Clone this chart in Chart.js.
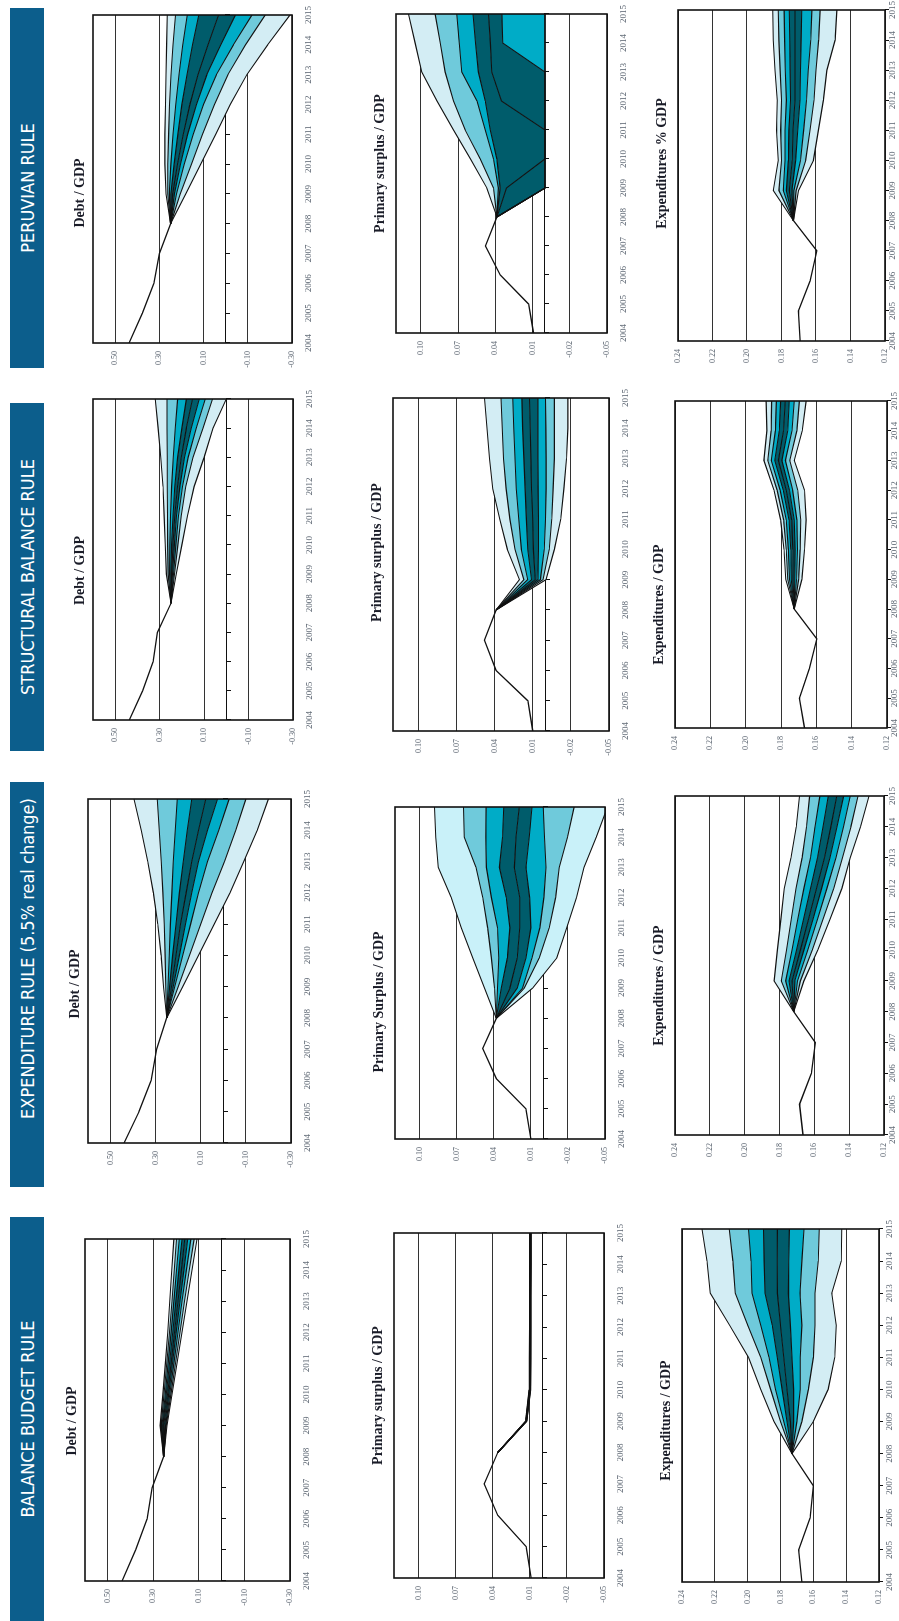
<!DOCTYPE html>
<html>
<head>
<meta charset="utf-8">
<script src="https://cdn.jsdelivr.net/npm/chart.js@4.4.1/dist/chart.umd.min.js"></script>
<style>
html, body { margin: 0; padding: 0; background: #fff; overflow: hidden; }
/* the page is laid out in landscape and turned a quarter turn */
#page { position: absolute; left: 0; top: 0; width: 1621px; height: 899px; background: #fff;
        transform-origin: 0 0; transform: translate(0, 1621px) rotate(-90deg); }
.rule { position: absolute; top: 10px; height: 34px; line-height: 35px; background: #0c5e8c; color: #fff;
        font-family: "Liberation Sans Narrow", "Arial Narrow", "DejaVu Sans Condensed", sans-serif;
        font-size: 18px; text-align: center; white-space: nowrap; box-sizing: border-box; }
canvas { position: absolute; }
</style>
</head>
<body>
<div id="page"></div>
<script>
var years = [2004, 2005, 2006, 2007, 2008, 2009, 2010, 2011, 2012, 2013, 2014, 2015];
var histYears = [2004, 2005, 2006, 2007, 2008];
var fanYears = [2008, 2009, 2010, 2011, 2012, 2013, 2014, 2015];

var debtTicks = [0.50, 0.30, 0.10, -0.10, -0.30];
var surplusTicks = [0.10, 0.07, 0.04, 0.01, -0.02, -0.05];
var spendTicks = [0.24, 0.22, 0.20, 0.18, 0.16, 0.14, 0.12];

var ruleNames = ["BALANCE BUDGET RULE", "EXPENDITURE RULE (5.5% real change)", "STRUCTURAL BALANCE RULE", "PERUVIAN RULE"];

// observed values 2004-2008
var bbDebtHist = [0.437, 0.378, 0.327, 0.305, 0.255];
var exDebtHist = [0.440, 0.374, 0.320, 0.296, 0.251];
var sbDebtHist = [0.437, 0.377, 0.329, 0.310, 0.249];
var peDebtHist = [0.437, 0.377, 0.325, 0.300, 0.249];

var bbSurpHist = [0.009, 0.013, 0.036, 0.047, 0.036];
var exSurpHist = [0.010, 0.014, 0.038, 0.049, 0.038];
var sbSurpHist = [0.010, 0.0139, 0.0388, 0.048, 0.0388];
var peSurpHist = [0.0092, 0.0132, 0.036, 0.048, 0.0387];

var bbSpendHist = [0.167, 0.169, 0.162, 0.160, 0.173];
var exSpendHist = [0.1665, 0.1685, 0.1617, 0.1594, 0.1718];
var sbSpendHist = [0.1667, 0.1696, 0.1639, 0.1597, 0.1725];
var peSpendHist = [0.1692, 0.1702, 0.1634, 0.1595, 0.1731];

// fan percentiles 2008-2015, lowest line first
var bbDebtFan = [
  [0.255, 0.240, 0.218, 0.196, 0.174, 0.152, 0.130, 0.108],
  [0.255, 0.243, 0.223, 0.203, 0.183, 0.163, 0.142, 0.121],
  [0.255, 0.246, 0.228, 0.210, 0.192, 0.174, 0.155, 0.135],
  [0.255, 0.250, 0.233, 0.216, 0.200, 0.183, 0.166, 0.149],
  [0.255, 0.254, 0.238, 0.222, 0.207, 0.192, 0.177, 0.162],
  [0.255, 0.258, 0.243, 0.229, 0.215, 0.201, 0.188, 0.174],
  [0.255, 0.262, 0.248, 0.235, 0.222, 0.210, 0.198, 0.186],
  [0.255, 0.266, 0.253, 0.241, 0.229, 0.218, 0.208, 0.198],
  [0.255, 0.270, 0.258, 0.247, 0.237, 0.228, 0.219, 0.210]
];
var exDebtFan = [
  [0.251, 0.180, 0.110, 0.040, -0.030, -0.090, -0.150, -0.200],
  [0.251, 0.200, 0.150, 0.100, 0.050, -0.005, -0.055, -0.100],
  [0.251, 0.215, 0.180, 0.145, 0.110, 0.070, 0.020, -0.026],
  [0.251, 0.222, 0.195, 0.168, 0.140, 0.110, 0.070, 0.026],
  [0.251, 0.230, 0.210, 0.190, 0.165, 0.140, 0.110, 0.078],
  [0.251, 0.238, 0.225, 0.210, 0.195, 0.178, 0.160, 0.140],
  [0.251, 0.245, 0.240, 0.235, 0.228, 0.222, 0.213, 0.204],
  [0.251, 0.255, 0.258, 0.262, 0.268, 0.275, 0.284, 0.293],
  [0.251, 0.265, 0.276, 0.291, 0.310, 0.335, 0.364, 0.396]
];
var sbDebtFan = [
  [0.249, 0.225, 0.200, 0.175, 0.145, 0.100, 0.060, 0.000],
  [0.249, 0.233, 0.218, 0.203, 0.183, 0.150, 0.105, 0.062],
  [0.249, 0.238, 0.227, 0.215, 0.197, 0.172, 0.135, 0.095],
  [0.249, 0.242, 0.234, 0.224, 0.209, 0.188, 0.158, 0.122],
  [0.249, 0.246, 0.240, 0.232, 0.220, 0.203, 0.180, 0.152],
  [0.249, 0.250, 0.246, 0.240, 0.232, 0.219, 0.200, 0.180],
  [0.249, 0.256, 0.254, 0.251, 0.246, 0.239, 0.230, 0.219],
  [0.249, 0.262, 0.264, 0.265, 0.266, 0.266, 0.267, 0.267],
  [0.249, 0.270, 0.275, 0.280, 0.285, 0.295, 0.307, 0.320]
];
var peDebtFan = [
  [0.249, 0.181, 0.113, 0.045, -0.021, -0.096, -0.190, -0.291],
  [0.249, 0.205, 0.155, 0.105, 0.050, -0.010, -0.090, -0.179],
  [0.249, 0.222, 0.187, 0.147, 0.100, 0.042, -0.035, -0.119],
  [0.249, 0.232, 0.204, 0.172, 0.132, 0.085, 0.022, -0.044],
  [0.249, 0.240, 0.218, 0.192, 0.162, 0.125, 0.080, 0.032],
  [0.249, 0.248, 0.233, 0.216, 0.198, 0.175, 0.150, 0.122],
  [0.249, 0.255, 0.248, 0.238, 0.226, 0.211, 0.194, 0.174],
  [0.249, 0.262, 0.262, 0.258, 0.254, 0.247, 0.238, 0.227],
  [0.249, 0.270, 0.275, 0.275, 0.272, 0.270, 0.267, 0.264]
];

var bbSurpFan = [
  [0.036, 0.0125, 0.0094, 0.0092, 0.0091, 0.0091, 0.0090, 0.0090],
  [0.036, 0.0126, 0.0096, 0.0094, 0.0093, 0.0093, 0.0092, 0.0092],
  [0.036, 0.0127, 0.0097, 0.0095, 0.0094, 0.0094, 0.0093, 0.0093],
  [0.036, 0.0128, 0.0099, 0.0097, 0.0096, 0.0096, 0.0095, 0.0095],
  [0.036, 0.0130, 0.0100, 0.0098, 0.0097, 0.0097, 0.0096, 0.0096],
  [0.036, 0.0131, 0.0101, 0.0099, 0.0098, 0.0098, 0.0097, 0.0097],
  [0.036, 0.0132, 0.0103, 0.0101, 0.0100, 0.0100, 0.0099, 0.0099],
  [0.036, 0.0134, 0.0104, 0.0102, 0.0101, 0.0101, 0.0100, 0.0100],
  [0.036, 0.0135, 0.0106, 0.0104, 0.0103, 0.0103, 0.0102, 0.0102]
];
var exSurpFan = [
  [0.038, 0.0086, -0.011, -0.019, -0.027, -0.033, -0.043, -0.052],
  [0.038, 0.0153, 0.0032, -0.0048, -0.010, -0.013, -0.0196, -0.025],
  [0.038, 0.0167, 0.0091, 0.0027, -0.0005, -0.0022, -0.001, 0.000],
  [0.038, 0.021, 0.014, 0.010, 0.011, 0.014, 0.0113, 0.0091],
  [0.038, 0.027, 0.021, 0.019, 0.019, 0.0234, 0.022, 0.0194],
  [0.038, 0.034, 0.029, 0.027, 0.030, 0.0355, 0.033, 0.032],
  [0.038, 0.037, 0.036, 0.037, 0.042, 0.046, 0.0465, 0.0462],
  [0.038, 0.0395, 0.042, 0.045, 0.049, 0.0545, 0.064, 0.0645],
  [0.038, 0.0476, 0.057, 0.0664, 0.0744, 0.085, 0.087, 0.088]
];
var sbSurpFan = [
  [0.0388, -0.0005, -0.007, -0.012, -0.0145, -0.0165, -0.0176, -0.0176],
  [0.0388, 0.002, -0.003, -0.005, -0.006, -0.007, -0.007, -0.007],
  [0.0388, 0.004, 0.001, 0.000, -0.0005, -0.0005, -0.0003, 0.000],
  [0.0388, 0.006, 0.0055, 0.0055, 0.0058, 0.006, 0.006, 0.006],
  [0.0388, 0.008, 0.0095, 0.010, 0.011, 0.0115, 0.012, 0.0126],
  [0.0388, 0.011, 0.014, 0.015, 0.016, 0.017, 0.018, 0.0186],
  [0.0388, 0.014, 0.019, 0.021, 0.023, 0.024, 0.025, 0.0257],
  [0.0388, 0.017, 0.024, 0.028, 0.031, 0.033, 0.034, 0.035],
  [0.0388, 0.0205, 0.030, 0.036, 0.0415, 0.044, 0.046, 0.048]
];
var peSurpFan = [
  [0.0387, 0, 0, 0, 0, 0, 0, 0],
  [0.0387, 0, 0, 0, 0, 0, 0, 0],
  [0.0387, 0, 0, 0, 0, 0, 0, 0],
  [0.0387, 0, 0, 0, 0, 0, 0.034, 0.0347],
  [0.0387, 0.031, 0, 0, 0.035, 0.0428, 0.044, 0.0455],
  [0.0387, 0.0361, 0.0387, 0.0441, 0.0481, 0.0536, 0.056, 0.058],
  [0.0387, 0.0375, 0.0415, 0.0481, 0.0548, 0.067, 0.069, 0.071],
  [0.0387, 0.0415, 0.0522, 0.0643, 0.0737, 0.0804, 0.0844, 0.0885],
  [0.0387, 0.0468, 0.060, 0.0737, 0.087, 0.0992, 0.1046, 0.110]
];

var bbSpendFan = [
  [0.173, 0.160, 0.151, 0.147, 0.146, 0.1488, 0.143, 0.1427],
  [0.173, 0.167, 0.163, 0.160, 0.159, 0.159, 0.157, 0.1564],
  [0.173, 0.170, 0.168, 0.168, 0.167, 0.1681, 0.167, 0.1657],
  [0.173, 0.172, 0.172, 0.173, 0.174, 0.1752, 0.175, 0.1746],
  [0.173, 0.174, 0.176, 0.178, 0.180, 0.1819, 0.182, 0.1819],
  [0.173, 0.176, 0.179, 0.182, 0.185, 0.1894, 0.190, 0.1904],
  [0.173, 0.178, 0.183, 0.187, 0.192, 0.1974, 0.198, 0.1995],
  [0.173, 0.180, 0.186, 0.192, 0.200, 0.2076, 0.209, 0.2112],
  [0.173, 0.184, 0.192, 0.1995, 0.211, 0.2228, 0.2248, 0.2278]
];
var exSpendFan = [
  [0.1718, 0.1660, 0.1580, 0.1510, 0.1442, 0.1394, 0.1335, 0.1286],
  [0.1718, 0.1680, 0.1612, 0.1550, 0.1488, 0.1438, 0.1390, 0.1349],
  [0.1718, 0.1697, 0.1638, 0.1582, 0.1528, 0.1476, 0.1433, 0.1394],
  [0.1718, 0.1712, 0.1660, 0.1608, 0.1558, 0.1510, 0.1470, 0.1432],
  [0.1718, 0.1728, 0.1680, 0.1633, 0.1588, 0.1542, 0.1505, 0.1471],
  [0.1718, 0.1745, 0.1702, 0.1662, 0.1622, 0.1582, 0.1550, 0.1520],
  [0.1718, 0.1765, 0.1728, 0.1695, 0.1660, 0.1622, 0.1596, 0.1568],
  [0.1718, 0.1790, 0.1760, 0.1733, 0.1705, 0.1670, 0.1645, 0.1627],
  [0.1718, 0.1831, 0.1812, 0.1792, 0.1773, 0.1734, 0.1704, 0.1685]
];
var sbSpendFan = [
  [0.1725, 0.1682, 0.1667, 0.1658, 0.1667, 0.1725, 0.1680, 0.1658],
  [0.1725, 0.1700, 0.1692, 0.1688, 0.1705, 0.1750, 0.1710, 0.1696],
  [0.1725, 0.1712, 0.1707, 0.1710, 0.1734, 0.1775, 0.1738, 0.1725],
  [0.1725, 0.1722, 0.1720, 0.1725, 0.1752, 0.1795, 0.1762, 0.1753],
  [0.1725, 0.1732, 0.1733, 0.1740, 0.1770, 0.1815, 0.1786, 0.1776],
  [0.1725, 0.1742, 0.1745, 0.1755, 0.1787, 0.1835, 0.1810, 0.1802],
  [0.1725, 0.1752, 0.1758, 0.1770, 0.1805, 0.1855, 0.1832, 0.1826],
  [0.1725, 0.1762, 0.1770, 0.1785, 0.1822, 0.1875, 0.1856, 0.1853],
  [0.1725, 0.1773, 0.1783, 0.1802, 0.1840, 0.1897, 0.1880, 0.1884]
];
var peSpendFan = [
  [0.1731, 0.1702, 0.1615, 0.1586, 0.1557, 0.1537, 0.1489, 0.1479],
  [0.1731, 0.1715, 0.1660, 0.1635, 0.1612, 0.1600, 0.1585, 0.1576],
  [0.1731, 0.1728, 0.1690, 0.1672, 0.1655, 0.1645, 0.1630, 0.1624],
  [0.1731, 0.1740, 0.1718, 0.1706, 0.1693, 0.1690, 0.1686, 0.1683],
  [0.1731, 0.1755, 0.1738, 0.1733, 0.1722, 0.1722, 0.1722, 0.1722],
  [0.1731, 0.1772, 0.1760, 0.1757, 0.1748, 0.1750, 0.1752, 0.1755],
  [0.1731, 0.1790, 0.1780, 0.1780, 0.1772, 0.1778, 0.1782, 0.1785],
  [0.1731, 0.1815, 0.1800, 0.1805, 0.1800, 0.1808, 0.1815, 0.1819],
  [0.1731, 0.1848, 0.1819, 0.1829, 0.1825, 0.1838, 0.1848, 0.1851]
];

var light = '#d3edf4', mid = '#6fcadb', cyan = '#00acc7', deep = '#005c6b';
var bandColors = [light, mid, cyan, deep, deep, cyan, mid, light];
var serif = '"Liberation Serif", "Times New Roman", serif';
var page = document.getElementById('page');

// header strips: [left, width, text shift]
var ruleBoxes = [[0, 404, 0], [434, 405, 52], [870, 348, 0], [1253, 360, 0]];
ruleNames.forEach(function (name, i) {
    var d = document.createElement('div');
    d.className = 'rule';
    d.style.left = ruleBoxes[i][0] + 'px';
    d.style.width = ruleBoxes[i][1] + 'px';
    d.style.paddingLeft = ruleBoxes[i][2] + 'px';
    d.textContent = name;
    page.appendChild(d);
});

var frame = {
    id: 'frame',
    afterDatasetsDraw: function (chart) {
        var a = chart.chartArea, ctx = chart.ctx;
        ctx.save();
        ctx.strokeStyle = '#111';
        ctx.lineWidth = 1.6;
        ctx.strokeRect(a.left, a.top, a.right - a.left, a.bottom - a.top);
        ctx.restore();
    }
};

var heading = {
    id: 'heading',
    afterDraw: function (chart, args, o) {
        var a = chart.chartArea, ctx = chart.ctx;
        ctx.save();
        ctx.font = 'bold 14px ' + serif;
        ctx.fillStyle = '#1a1c28';
        ctx.textAlign = 'center';
        ctx.textBaseline = 'alphabetic';
        ctx.fillText(o.text, (a.left + a.right) / 2 + o.shift, a.top - o.gap);
        ctx.restore();
    }
};

function yearTicks(s) { s.ticks = years.map(function (v) { return { value: v }; }); }

function panel(p) {
    var cv = document.createElement('canvas');
    cv.width = p.box[2] + 54;
    cv.height = p.box[3] + 50;
    cv.style.left = (p.box[0] - 40) + 'px';
    cv.style.top = (p.box[1] - 30) + 'px';
    page.appendChild(cv);

    var colors = p.colors || bandColors;
    var datasets = p.fan.map(function (q, i) {
        return {
            data: fanYears.map(function (yr, k) { return { x: yr, y: q[k] }; }),
            borderColor: '#111',
            borderWidth: 1.1,
            backgroundColor: i ? colors[i - 1] : 'transparent',
            fill: i ? '-1' : false,
            pointRadius: 0,
            tension: 0
        };
    });
    datasets.push({
        data: histYears.map(function (yr, k) { return { x: yr, y: p.hist[k] }; }),
        borderColor: '#111',
        borderWidth: 1.3,
        fill: false,
        pointRadius: 0
    });

    var scales = {
        x: {
            type: 'linear', position: 'bottom', min: 2004, max: 2015,
            afterBuildTicks: yearTicks,
            afterFit: function (s) { s.height = 20; },
            grid: { display: !p.zero, drawOnChartArea: false, tickLength: 4, color: '#111' },
            border: { display: false },
            ticks: {
                font: { family: serif, size: 9 }, color: '#5a6470', maxRotation: 0, autoSkip: false,
                padding: p.zero ? 7 : p.pad,
                callback: function (v) { return String(v); }
            }
        },
        y: {
            type: 'linear', min: p.min, max: p.max,
            afterBuildTicks: function (s) { s.ticks = p.ticks.map(function (v) { return { value: v }; }); },
            afterFit: function (s) { s.width = 40; },
            grid: { color: '#333', lineWidth: 1, drawTicks: false },
            border: { display: false },
            ticks: {
                font: { family: serif, size: 8 }, color: '#5a6470', padding: 8,
                callback: function (v) { return v.toFixed(2); }
            }
        }
    };
    if (p.zero) {
        scales.x0 = {
            type: 'linear', position: { y: 0 }, min: 2004, max: 2015, z: 1,
            afterBuildTicks: yearTicks,
            grid: { drawOnChartArea: false, tickLength: 4, color: '#111' },
            border: { display: true, color: '#111', width: 1 },
            ticks: { display: false }
        };
    }

    new Chart(cv, {
        type: 'line',
        data: { datasets: datasets },
        plugins: [frame, heading],
        options: {
            responsive: false,
            animation: false,
            events: [],
            layout: { padding: { top: 30, right: 14, left: 0, bottom: 0 } },
            scales: scales,
            plugins: {
                legend: { display: false },
                tooltip: { enabled: false },
                filler: { drawTime: 'beforeDatasetsDraw', propagate: false },
                heading: { text: p.title, shift: p.shift, gap: p.gap }
            }
        }
    });
}

// Debt / GDP
panel({ box: [40, 85, 344, 205], min: -0.3, max: 0.6, ticks: debtTicks, zero: true, hist: bbDebtHist, fan: bbDebtFan, title: 'Debt / GDP', shift: -11, gap: 9 });
panel({ box: [478, 88, 346, 203], min: -0.3, max: 0.6, ticks: debtTicks, zero: true, hist: exDebtHist, fan: exDebtFan, title: 'Debt / GDP', shift: -13, gap: 9 });
panel({ box: [901, 93, 323, 200], min: -0.3, max: 0.6, ticks: debtTicks, zero: true, hist: sbDebtHist, fan: sbDebtFan, title: 'Debt / GDP', shift: -11, gap: 9 });
panel({ box: [1278, 93, 330, 199], min: -0.3, max: 0.6, ticks: debtTicks, zero: true, hist: peDebtHist, fan: peDebtFan, title: 'Debt / GDP', shift: -14, gap: 9 });

// Primary surplus / GDP
panel({ box: [43, 394, 347, 210], min: -0.05, max: 0.12, ticks: surplusTicks, zero: true, hist: bbSurpHist, fan: bbSurpFan, title: 'Primary surplus / GDP', shift: 10, gap: 12 });
panel({ box: [482, 395, 334, 210], min: -0.05, max: 0.12, ticks: surplusTicks, zero: true, hist: exSurpHist, fan: exSurpFan, title: 'Primary Surplus / GDP', shift: -29, gap: 12,
        colors: ['#c9f1f9', mid, cyan, deep, deep, cyan, mid, '#c9f1f9'] });
panel({ box: [890, 393, 335, 216], min: -0.05, max: 0.12, ticks: surplusTicks, zero: true, hist: sbSurpHist, fan: sbSurpFan, title: 'Primary surplus / GDP', shift: 12, gap: 12 });
panel({ box: [1288, 396, 321, 211], min: -0.05, max: 0.12, ticks: surplusTicks, zero: true, hist: peSurpHist, fan: peSurpFan, title: 'Primary surplus / GDP', shift: 10, gap: 12 });

// Expenditures / GDP
panel({ box: [39, 682, 353, 197], min: 0.12, max: 0.24, ticks: spendTicks, zero: false, pad: 1, hist: bbSpendHist, fan: bbSpendFan, title: 'Expenditures / GDP', shift: -15, gap: 12 });
panel({ box: [486, 675, 339, 209], min: 0.12, max: 0.24, ticks: spendTicks, zero: false, pad: -1, hist: exSpendHist, fan: exSpendFan, title: 'Expenditures / GDP', shift: -20, gap: 12 });
panel({ box: [893, 675, 327, 212], min: 0.12, max: 0.24, ticks: spendTicks, zero: false, pad: -2, hist: sbSpendHist, fan: sbSpendFan, title: 'Expenditures / GDP', shift: -40, gap: 12 });
panel({ box: [1280, 678, 331, 207], min: 0.12, max: 0.24, ticks: spendTicks, zero: false, pad: -2, hist: peSpendHist, fan: peSpendFan, title: 'Expenditures % GDP', shift: 12, gap: 12 });
</script>
</body>
</html>
